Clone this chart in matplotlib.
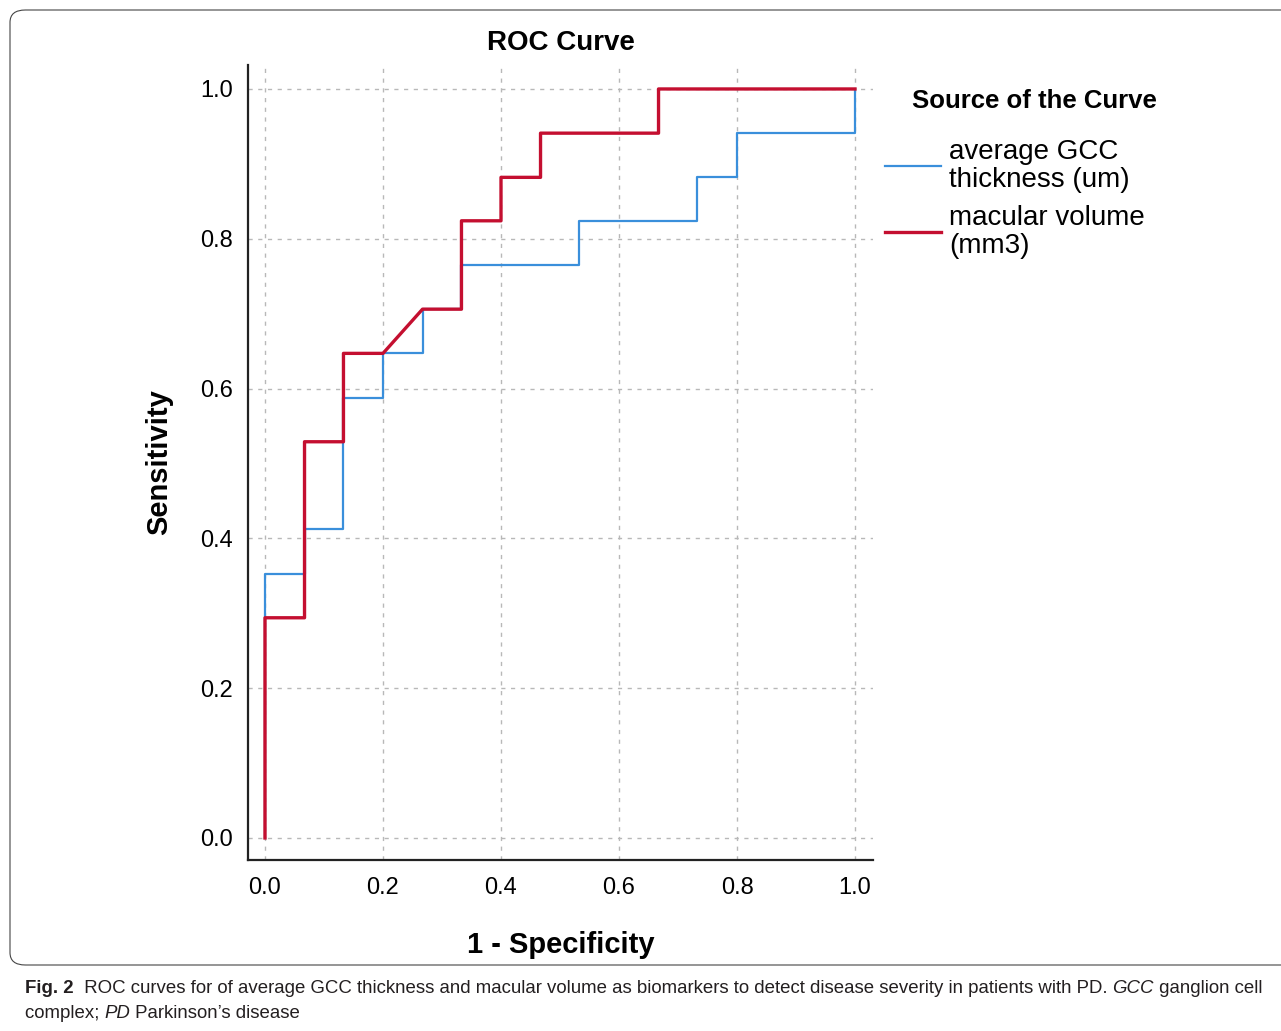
import matplotlib
matplotlib.use('Agg')
import matplotlib.pyplot as plt
from matplotlib.lines import Line2D
from matplotlib.patches import FancyBboxPatch

# ROC points (1 - specificity, sensitivity)
gcc_fpr = [0, 0, 0.067, 0.067, 0.133, 0.133, 0.2, 0.2, 0.267, 0.267,
           0.333, 0.333, 0.533, 0.533, 0.733, 0.733, 0.8, 0.8, 1.0, 1.0]
gcc_tpr = [0, 0.353, 0.353, 0.412, 0.412, 0.588, 0.588, 0.647, 0.647, 0.706,
           0.706, 0.765, 0.765, 0.824, 0.824, 0.882, 0.882, 0.941, 0.941, 1.0]
mv_fpr = [0, 0, 0.067, 0.067, 0.133, 0.133, 0.2, 0.267, 0.333, 0.333,
          0.4, 0.4, 0.467, 0.467, 0.667, 0.667, 1.0]
mv_tpr = [0, 0.294, 0.294, 0.529, 0.529, 0.647, 0.647, 0.706, 0.706, 0.824,
          0.824, 0.882, 0.882, 0.941, 0.941, 1.0, 1.0]
ticks = [0.0, 0.2, 0.4, 0.6, 0.8, 1.0]
tick_labels = ['0.0', '0.2', '0.4', '0.6', '0.8', '1.0']
series_labels = ['average GCC\nthickness (um)', 'macular volume\n(mm3)']

blue = '#3a8fdb'
red = '#c40f30'

plt.rcParams['font.family'] = ['Liberation Sans', 'DejaVu Sans']

W, H = 1281, 1031
fig = plt.figure(figsize=(W / 100, H / 100), dpi=100)

# rounded frame around the figure panel
frame = FancyBboxPatch((10 / W, 1 - 965 / H), 1290 / W, 955 / H,
                       boxstyle='round,pad=0,rounding_size=0.012',
                       transform=fig.transFigure, fill=False,
                       edgecolor='#444444', linewidth=0.8)
fig.patches.append(frame)

ax = fig.add_axes([248 / W, 1 - 860 / H, 625 / W, 795 / H])
ax.plot(gcc_fpr, gcc_tpr, color=blue, linewidth=1.6, zorder=3)
ax.plot(mv_fpr, mv_tpr, color=red, linewidth=2.4, zorder=4)

ax.set_xlim(-0.0288, 1.0305)
ax.set_ylim(-0.0294, 1.032)
ax.set_xticks(ticks)
ax.set_xticklabels(tick_labels)
ax.set_yticks(ticks)
ax.set_yticklabels(tick_labels)
ax.tick_params(length=0, labelsize=17)
ax.tick_params(axis='x', pad=12)
ax.tick_params(axis='y', pad=11)
for s in ['top', 'right']:
    ax.spines[s].set_visible(False)
for s in ['left', 'bottom']:
    ax.spines[s].set_linewidth(1.6)
    ax.spines[s].set_color('#222222')
ax.grid(True, color='#b8b8b8', linestyle=(0, (3, 4)), linewidth=1.0)
ax.set_axisbelow(True)

ax.set_title('ROC Curve', fontsize=20, fontweight='bold', pad=11)
ax.set_xlabel('1 - Specificity', fontsize=21, fontweight='bold', labelpad=23)
ax.set_ylabel('Sensitivity', fontsize=21, fontweight='bold', labelpad=19)

handles = [Line2D([], [], color=blue, linewidth=1.6),
           Line2D([], [], color=red, linewidth=2.4)]
leg = ax.legend(handles, series_labels, loc='upper left',
                bbox_to_anchor=(885 / W, 1 - 139 / H),
                bbox_transform=fig.transFigure, frameon=False, fontsize=20,
                handlelength=2.0, handletextpad=0.3, labelspacing=0.42,
                borderpad=0, borderaxespad=0)
for t in leg.get_texts():
    t.set_linespacing(1.1)
fig.text(912 / W, 1 - 101 / H, 'Source of the Curve', fontsize=18.5,
         fontweight='bold', va='center', ha='left')

# caption with mixed styles
renderer = fig.canvas.get_renderer()
line1 = [('Fig. 2', 'bold', 'normal'),
         ('  ROC curves for of average GCC thickness and macular volume as '
          'biomarkers to detect disease severity in patients with PD. ',
          'normal', 'normal'),
         ('GCC', 'normal', 'italic'),
         (' ganglion cell', 'normal', 'normal')]
line2 = [('complex; ', 'normal', 'normal'),
         ('PD', 'normal', 'italic'),
         (' Parkinson\u2019s disease', 'normal', 'normal')]


def draw_pieces(pieces, x0, y0, size):
    x = x0
    out = []
    for txt, weight, style in pieces:
        t = fig.text(x / W, 1 - y0 / H, txt, fontsize=size, fontweight=weight,
                     fontstyle=style, va='baseline', ha='left',
                     color='#231f20')
        x += t.get_window_extent(renderer=renderer).width
        out.append(t)
    return x - x0, out


# size the caption so the first line spans the panel width
w, tmp = draw_pieces(line1, 25, 993, 14)
for t in tmp:
    t.remove()
cap_size = 14 * 1250 / w
draw_pieces(line1, 25, 993, cap_size)
draw_pieces(line2, 25, 1018, cap_size)

fig.savefig('out.png', dpi=100)
